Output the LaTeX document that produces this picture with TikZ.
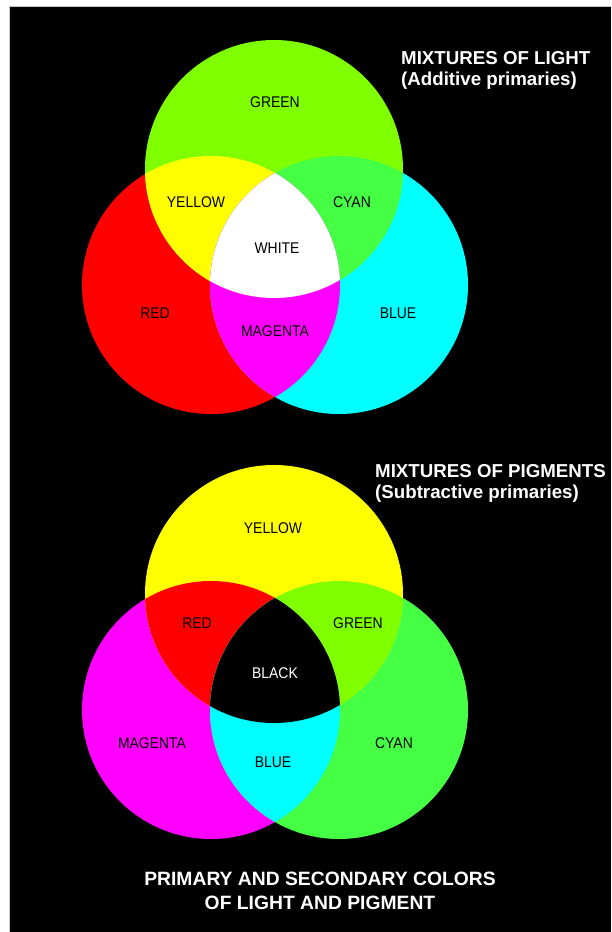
\documentclass[tikz,border=0pt]{standalone}
\usepackage{fontspec}
\setmainfont{Liberation Sans}
\newfontfamily\labfont[FakeStretch=0.9]{Liberation Sans}
\definecolor{cgreen}{HTML}{80FF00}
\definecolor{cred}{HTML}{FF0000}
\definecolor{ccyan}{HTML}{00FFFF}
\definecolor{cyel}{HTML}{FFFF00}
\definecolor{cmag}{HTML}{FF00FF}
\definecolor{cmid}{HTML}{44FF44}
\begin{document}
\begin{tikzpicture}[x=1pt,y=-1pt,
  lab/.style={font=\labfont\fontsize{15.5}{17}\selectfont, text=black, inner sep=0pt, anchor=base},
  ttl/.style={font=\fontsize{18.7}{21}\selectfont\bfseries, text=white, inner sep=0pt, anchor=base west},
  captext/.style={font=\fontsize{19.3}{22}\selectfont\bfseries, text=white, inner sep=0pt, anchor=base}]
\useasboundingbox (0,0) rectangle (611,932);
\fill[white] (0,0) rectangle (611,932);
\fill[black] (10,7) rectangle (611,932);
\draw[gray!45, line width=1pt] (9.5,932) -- (9.5,6.5) -- (611,6.5);
% ---------- light ----------
\def\rr{129}
\fill[cred] (211,285) circle (\rr);
\fill[ccyan] (339,285) circle (\rr);
\fill[cgreen] (274,169) circle (\rr);
\begin{scope}\clip (211,285) circle (\rr); \fill[cyel] (274,169) circle (\rr); \end{scope}
\begin{scope}\clip (339,285) circle (\rr); \fill[cmid] (274,169) circle (\rr); \end{scope}
\begin{scope}\clip (211,285) circle (\rr); \fill[cmag] (339,285) circle (\rr); \end{scope}
\begin{scope}\clip (211,285) circle (\rr); \clip (339,285) circle (\rr); \fill[white] (274,169) circle (\rr); \end{scope}
\node[lab] (lgreen) at (275,107.5) {GREEN};
\node[lab] (lyellow) at (196,207.5) {YELLOW};
\node[lab] (lcyan) at (352,207.5) {CYAN};
\node[lab] (lwhite) at (277,253.5) {WHITE};
\node[lab] (lred) at (155,318.5) {RED};
\node[lab] (lmag) at (275,336.5) {MAGENTA};
\node[lab] (lblue) at (398,318.5) {BLUE};
\node[ttl] (t1a) at (401,64) {MIXTURES OF LIGHT};
\node[ttl] (t1b) at (401,85.5) {(Additive primaries)};
% ---------- pigment ----------
\fill[cmag] (211,710) circle (\rr);
\fill[cmid] (339,710) circle (\rr);
\fill[cyel] (274,594) circle (\rr);
\begin{scope}\clip (211,710) circle (\rr); \fill[cred] (274,594) circle (\rr); \end{scope}
\begin{scope}\clip (339,710) circle (\rr); \fill[cgreen] (274,594) circle (\rr); \end{scope}
\begin{scope}\clip (211,710) circle (\rr); \fill[ccyan] (339,710) circle (\rr); \end{scope}
\begin{scope}\clip (211,710) circle (\rr); \clip (339,710) circle (\rr); \fill[black] (274,594) circle (\rr); \end{scope}
\node[lab] (pyellow) at (273,533.5) {YELLOW};
\node[lab] (pred) at (197,628.5) {RED};
\node[lab] (pgreen) at (358,628.5) {GREEN};
\node[lab, text=white] (pblack) at (275,678.5) {BLACK};
\node[lab] (pmag) at (152,748.5) {MAGENTA};
\node[lab] (pblue) at (273,767.5) {BLUE};
\node[lab] (pcyan) at (394,748.5) {CYAN};
\node[ttl] (t2a) at (375,477) {MIXTURES OF PIGMENTS};
\node[ttl] (t2b) at (375,498) {(Subtractive primaries)};
% ---------- caption ----------
\node[captext] (c1) at (320,885) {PRIMARY AND SECONDARY COLORS};
\node[captext] (c2) at (320,909) {OF LIGHT AND PIGMENT};
\end{tikzpicture}
\end{document}
